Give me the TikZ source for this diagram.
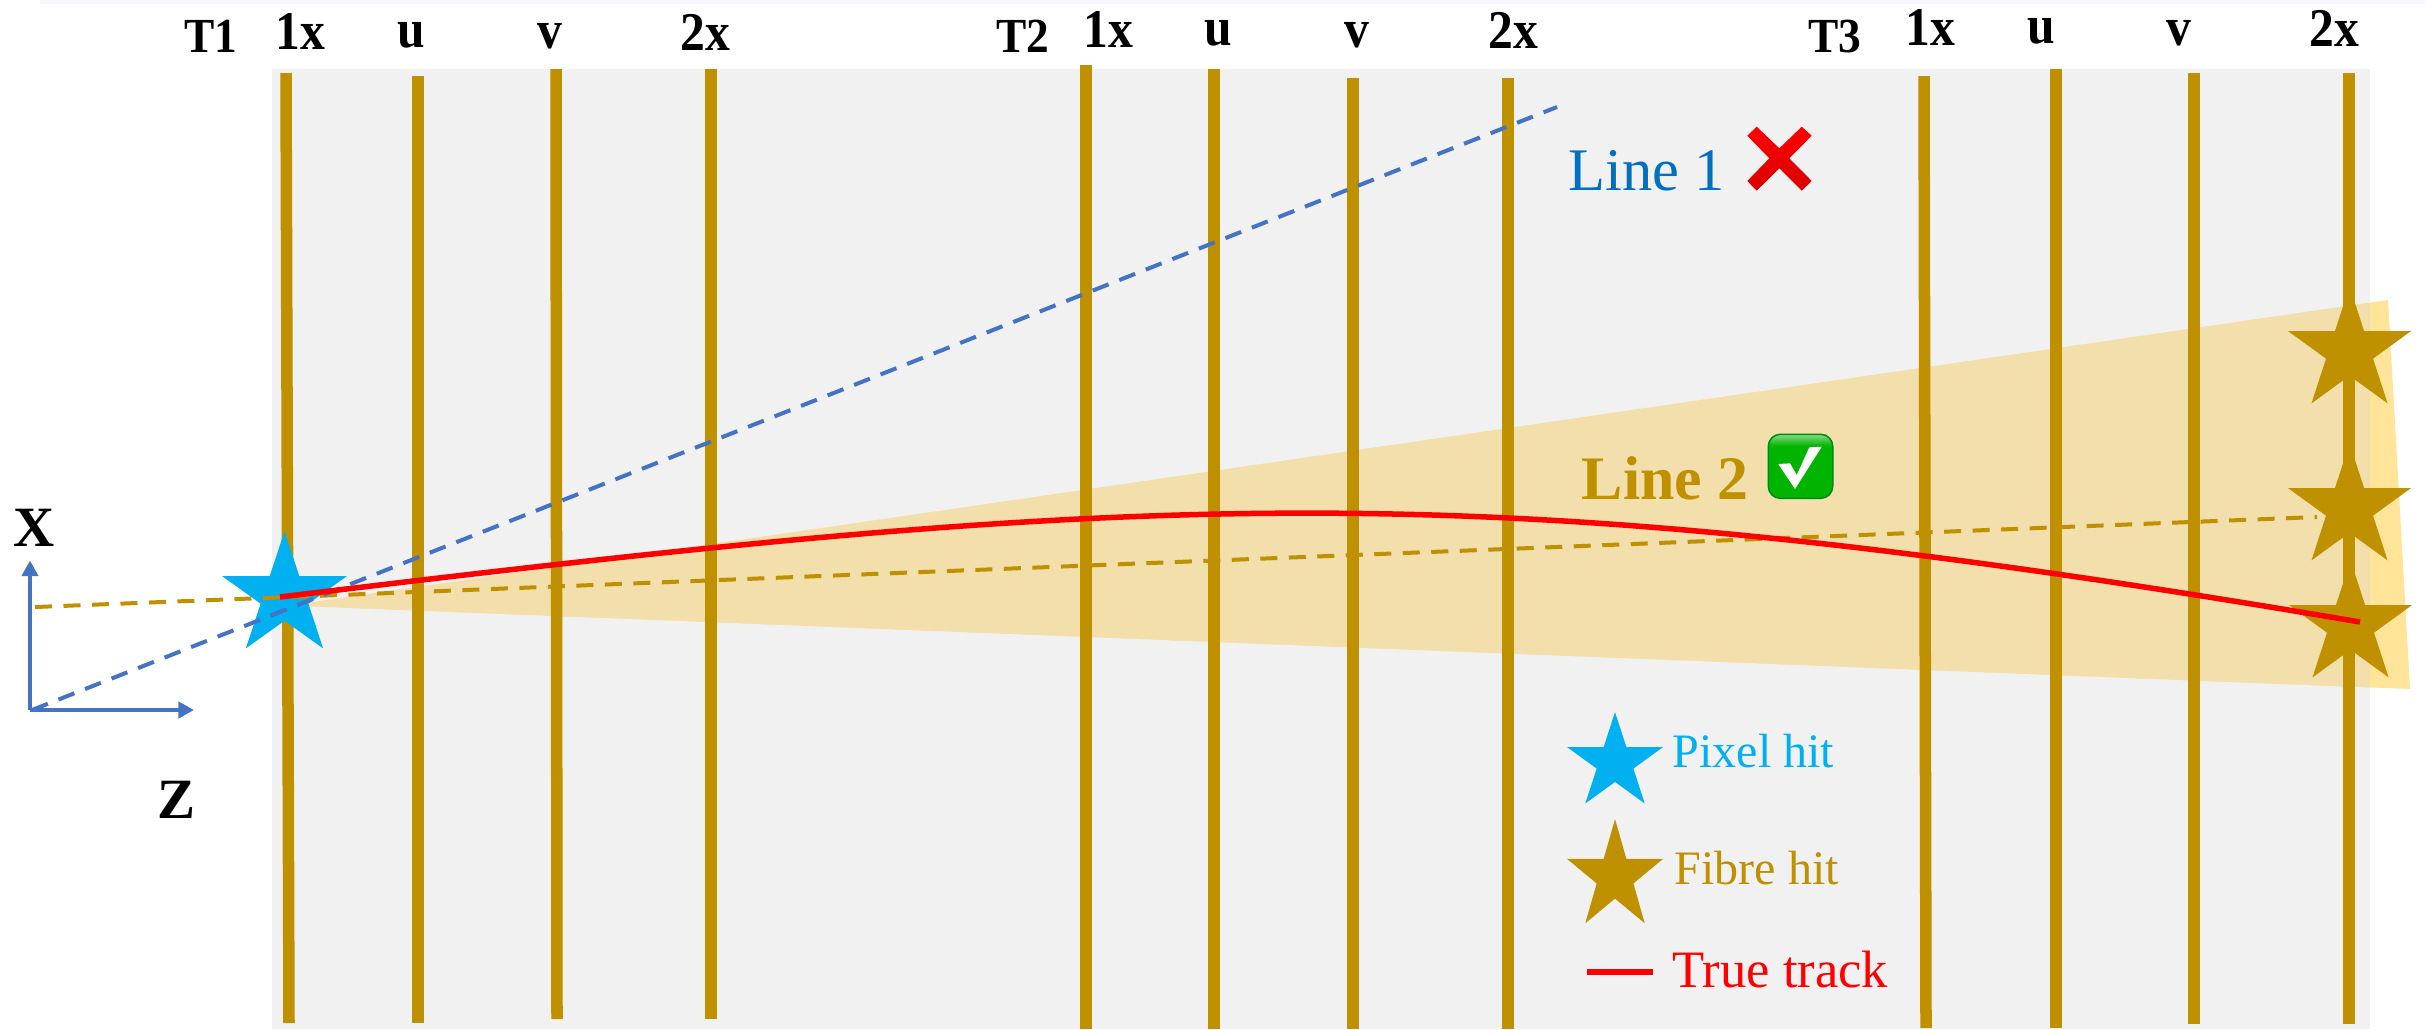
\documentclass[tikz,border=0pt]{standalone}
\usepackage{fontspec}
\setmainfont{Liberation Serif}
\usepackage{xcolor}
\usetikzlibrary{arrows.meta,shapes.geometric}
\definecolor{fibregold}{HTML}{BF9000}
\definecolor{pixelblue}{HTML}{00B0F0}
\definecolor{axisblue}{HTML}{4472C4}
\definecolor{textblue}{HTML}{0070C0}
\definecolor{panelgrey}{HTML}{F1F1F1}
\definecolor{bandout}{HTML}{FFE499}
\definecolor{bandin}{HTML}{F2DFAB}
\definecolor{okgreen}{HTML}{00B400}
\definecolor{okedge}{HTML}{008A14}
\definecolor{oklight}{HTML}{86DC86}
\definecolor{crossdark}{HTML}{D80000}
\newcommand{\fsz}[1]{\fontsize{#1}{#1}\selectfont}
\pgfdeclareverticalshading{okshade}{100bp}{color(0bp)=(okgreen); color(66bp)=(okgreen); color(75bp)=(oklight); color(100bp)=(oklight)}
\begin{document}
\begin{tikzpicture}[x=0.01cm,y=-0.01cm,
 fibre/.style={draw=fibregold,line width=0.115cm},
 hitstar/.style={star,star points=5,star point ratio=2.618,inner sep=0pt,draw=none,transform shape},
 head/.style={font=\fsz{14.1}\bfseries,anchor=base,inner sep=0pt,yscale=1.1,transform shape},
 station/.style={font=\fsz{12.9}\bfseries,anchor=base,inner sep=0pt,yscale=1.08,transform shape},
 legend/.style={anchor=base west,inner sep=0pt},
 guess/.style={dash pattern=on 0.17cm off 0.115cm,line width=0.04cm},
 axis/.style={draw=axisblue,line width=0.045cm,-{Triangle[length=0.155cm,width=0.16cm]}},
 axlab/.style={anchor=base,inner sep=0pt,font=\fsz{16.2}\bfseries},
 track/.style={draw=red,line width=0.055cm}]
\useasboundingbox (0,0) rectangle (2425,1029);
\fill[panelgrey] (272,69) rectangle (2370,1029);
\fill[blue!3] (40,0) rectangle (2425,4);
\coordinate (apex) at (290,605.5);
\fill[bandout] (apex) -- (2388,300) -- (2410,689) -- cycle;
\begin{scope}
\clip (272,69) rectangle (2370,1029);
\fill[bandin] (apex) -- (2388,300) -- (2410,689) -- cycle;
\end{scope}
\foreach \xa/\ya/\xb/\yb in {286/73/289/1023,418/76/418/1023,556/69/557/1019,711/69/711/1019,
 1086/65/1086/1029,1214/69/1214/1029,1353/78/1353/1029,1508/78/1508/1029,
 1924/76/1926/1028,2056/69/2056/1028,2194/73/2194/1024,2349/73/2349/1024}
 {\draw[fibre] (\xa,\ya)--(\xb,\yb);}
\foreach \lb/\xx/\yy [count=\i] in {1x/300/49,u/411/47,v/550/48,2x/705/50,
 1x/1108/47,u/1218/45,v/1357/47,2x/1513/48,
 1x/1930/45,u/2041/43,v/2179/45,2x/2334/46}
 {\node[head] (hd\i) at (\xx,\yy) {\lb};}
\foreach \lb/\xx in {T1/211,T2/1023,T3/1835}
 {\node[station] (\lb) at (\xx,52) {\lb};}
\node[hitstar,fill=pixelblue,minimum size=1.314cm,yscale=.985] (pixhit) at (284.5,596) {};
\coordinate (origin) at (30,710);
\coordinate (ztip) at (194,710);
\coordinate (xtip) at (30,560.5);
\coordinate (lineAa) at (32,710);
\coordinate (lineAb) at (1557,107);
\coordinate (lineBa) at (35,607);
\coordinate (lineBb) at (2317,517);
\draw[guess,draw=fibregold] (lineBa)--(lineBb);
\draw[guess,draw=axisblue] (lineAa)--(lineAb);
\draw[axis] (origin)--(xtip);
\draw[axis] (origin)--(ztip);
\node[axlab] (xlab) at (34.5,546.5) {X};
\node[axlab] (zlab) at (176.5,818) {Z};
\node[hitstar,fill=fibregold,minimum size=1.294cm] (fibA) at (2349.5,351) {};
\node[hitstar,fill=fibregold,minimum size=1.294cm] (fibB) at (2349.5,508) {};
\node[hitstar,fill=fibregold,minimum size=1.294cm] (fibC) at (2350.5,625) {};
\coordinate (trkA) at (280,597);
\coordinate (trkB) at (2360,622);
\draw[track] (trkA) .. controls (1160,490) and (1478,472) .. (trkB);
\node[legend,font=\fsz{17.2},text=textblue] (lineone) at (1568,190) {Line 1};
\shade[top color=red,bottom color=crossdark] (1747.3,135.7)--(1756.7,126.7)--(1779.3,148.3)--(1801.7,126.7)--(1811.7,135.7)--(1789.3,158.3)--(1811.7,181)--(1801.7,190.7)--(1779.3,168.3)--(1756.7,190.7)--(1747.3,181)--(1769.3,158.3)--cycle;
\node[legend,font=\fsz{17.6}\bfseries,text=fibregold] (linetwo) at (1581,499) {Line 2};
\node[draw=okedge,line width=0.015cm,rounded corners=0.12cm,shading=okshade,minimum width=0.644cm,minimum height=0.64cm,inner sep=0pt] (okbox) at (1800.5,466.3) {};
\fill[white] (1778.3,464)--(1790,463.3)--(1796.7,475)--(1809.3,447.3)--(1821.7,446.7)--(1795,489)--cycle;
\node[hitstar,fill=pixelblue,minimum size=1.01cm] (legpix) at (1615,762.6) {};
\node[hitstar,fill=fibregold,minimum size=1.01cm,yscale=1.14] (legfib) at (1615,876.6) {};
\node[legend,font=\fsz{13.66},text=pixelblue] (legpixt) at (1672,767) {Pixel hit};
\node[legend,font=\fsz{13.66},text=fibregold] (legfibt) at (1674,884) {Fibre hit};
\coordinate (legA) at (1587,972);
\coordinate (legB) at (1653,972);
\draw[track,line width=0.06cm] (legA)--(legB);
\node[legend,font=\fsz{14.94},text=red] (legtrk) at (1672,987) {True track};
\end{tikzpicture}
\end{document}
